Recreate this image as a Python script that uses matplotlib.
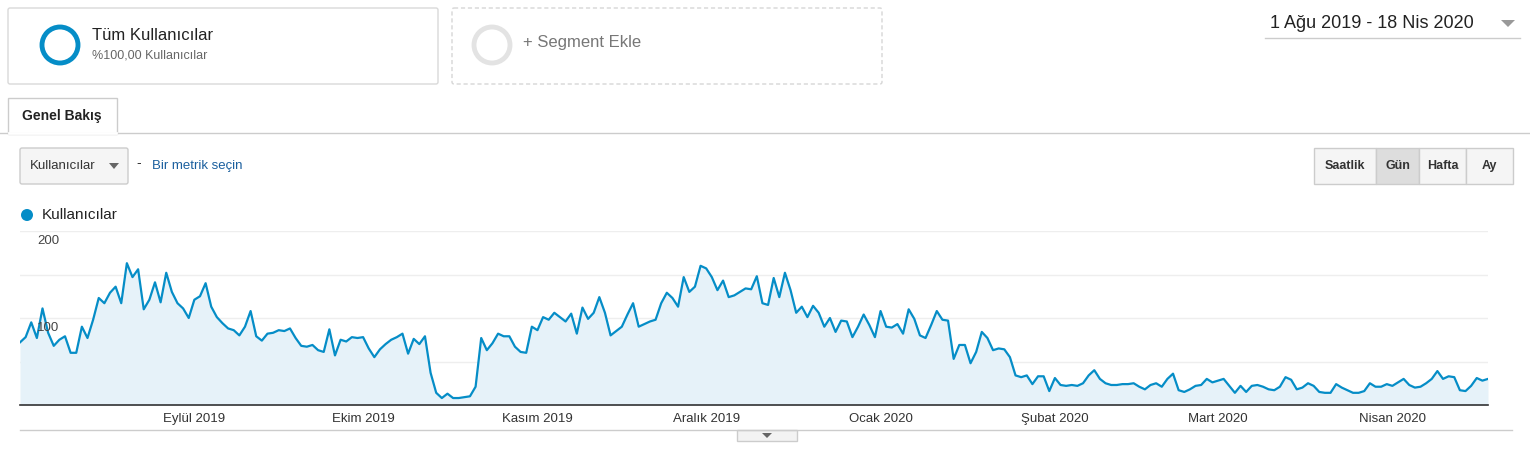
import matplotlib.pyplot as plt
from matplotlib.patches import Circle, FancyBboxPatch, Rectangle, Polygon
import numpy as np

plt.rcParams['font.family'] = ['Liberation Sans', 'DejaVu Sans']

# daily users, 1 Aug 2019 .. 18 Apr 2020
users = [
    72, 78, 95, 77, 111, 83, 68, 75, 79, 60, 60, 90, 77, 98, 123, 117, 129, 136, 117, 163,
    147, 156, 110, 121, 141, 118, 152, 130, 117, 111, 100, 121, 125, 140, 113, 101, 94, 88, 86, 80,
    90, 108, 79, 74, 82, 83,
    86, 85, 88, 77, 68, 67, 69, 63, 61, 87, 57, 75, 73, 78, 77, 78, 65, 55, 64, 70,
    75, 78, 82, 59, 76, 70, 79, 37, 14, 8, 13, 8, 8, 9, 10, 21, 77, 63, 71, 82,
    79, 79, 67, 61,
    60, 90, 86, 101, 98, 106, 101, 96, 105, 82, 112, 99, 106, 124, 106, 80, 85, 90, 104, 117,
    90, 93, 96, 98, 117, 129, 123, 113, 147, 130, 136, 160, 157, 147, 132, 143, 124, 126, 130, 134,
    133, 148, 117, 115, 146,
    124, 152, 132, 106, 113, 101, 114, 106, 90, 100, 84, 97, 96, 78, 90, 104, 92, 78, 108, 90,
    89, 93, 82, 110, 99, 80, 77, 92, 108, 98, 97, 53, 69, 69, 48, 61, 84, 77, 63, 65,
    64, 55, 34, 32,
    34, 24, 33, 33, 16, 31, 23, 22, 23, 22, 25, 34, 40, 30, 25, 23, 23, 24, 24, 25,
    21, 18, 23, 25, 21, 30, 36, 17, 15, 18, 22, 23, 30, 26, 28, 30, 22, 14, 22, 15,
    22, 23, 21, 18, 17, 21, 32, 29, 18, 20, 25, 22, 15, 14, 14, 24, 20, 17, 14, 14,
    16, 25, 21, 21, 24, 22, 26, 30, 23, 20, 21, 25, 30, 39, 30, 33, 32, 17, 16, 22,
    31, 28, 30,
]
month_days = [31, 61, 92, 122, 153, 184, 213, 244]
month_labels = ['Eylül 2019', 'Ekim 2019', 'Kasım 2019', 'Aralık 2019',
                'Ocak 2020', 'Şubat 2020', 'Mart 2020', 'Nisan 2020']

W, H = 1530, 451
BLUE = '#058dc7'
fig = plt.figure(figsize=(W / 100, H / 100), dpi=100)

# ---- UI overlay in pixel coords
ui = fig.add_axes([0, 0, 1, 1])
ui.set_xlim(0, W)
ui.set_ylim(H, 0)
ui.axis('off')

def box(x0, y0, x1, y1, ec='#d9d9d9', fc='white', ls='-', lw=1, r=2):
    ui.add_patch(FancyBboxPatch((x0, y0), x1 - x0, y1 - y0, boxstyle=f'round,pad=0,rounding_size={r}',
                                ec=ec, fc=fc, ls=ls, lw=lw))

box(8, 8, 438, 84)
ui.add_patch(Circle((60, 45), 18, fill=False, ec=BLUE, lw=3.5))
ui.text(92, 36, 'Tüm Kullanıcılar', fontsize=12, va='center', color='#222222')
ui.text(92, 55, '%100,00 Kullanıcılar', fontsize=9, va='center', color='#666666')

box(452, 8, 882, 84, ec='#d6d6d6', ls=(0, (3, 2)))
ui.add_patch(Circle((492, 45), 18, fill=False, ec='#e3e3e3', lw=3.5))
ui.text(523, 43, '+ Segment Ekle', fontsize=12, va='center', color='#777777')

ui.text(1270, 23, '1 Ağu 2019 - 18 Nis 2020', fontsize=13, va='center', color='#222222')
ui.add_patch(Polygon([[1501, 20], [1515, 20], [1508, 27]], fc='#999999', ec='none'))
ui.plot([1265, 1520], [38, 38], color='#cccccc', lw=1)

ui.plot([0, W], [133, 133], color='#cccccc', lw=1)
ui.add_patch(Rectangle((8, 98), 109, 36, fc='white', ec='#cccccc', lw=1))
ui.plot([9, 116], [133, 133], color='white', lw=2)
ui.text(62, 116, 'Genel Bakış', fontsize=10, fontweight='bold', ha='center', va='center', color='#222222')

box(20, 148, 128, 184, ec='#cccccc', fc='#f5f5f5')
ui.text(30, 166, 'Kullanıcılar', fontsize=9.5, va='center', color='#333333')
ui.add_patch(Polygon([[109, 163], [119, 163], [114, 169]], fc='#666666', ec='none'))
ui.text(136, 163, '-', fontsize=10, va='center', color='#333333')
ui.text(152, 166, 'Bir metrik seçin', fontsize=9.5, va='center', color='#1a5f9e')

buttons = [('Saatlik', 1314, 1376), ('Gün', 1376, 1419), ('Hafta', 1419, 1466), ('Ay', 1466, 1513)]
for label, x0, x1 in buttons:
    fc = '#dddddd' if label == 'Gün' else '#f5f5f5'
    ui.add_patch(Rectangle((x0, 148), x1 - x0, 36, fc=fc, ec='#cccccc', lw=1))
    ui.text((x0 + x1) / 2, 166, label, fontsize=9, fontweight='bold', ha='center', va='center', color='#333333')

ui.add_patch(Circle((27, 215), 6, fc=BLUE, ec='none'))
ui.text(42, 215, 'Kullanıcılar', fontsize=11, va='center', color='#222222')

ui.plot([20, 1512], [430, 430], color='#cccccc', lw=1)
ui.add_patch(Rectangle((737, 430), 60, 11, fc='#f3f3f3', ec='#cccccc', lw=1))
ui.add_patch(Polygon([[762, 433], [772, 433], [767, 438]], fc='#666666', ec='none'))

# ---- chart
x0, x1, ytop, ybot = 20, 1488, 231, 405
ax = fig.add_axes([x0 / W, (H - ybot) / H, (x1 - x0) / W, (ybot - ytop) / H])
days = np.arange(len(users))
ax.fill_between(days, users, 0, color='#e6f2f9', lw=0)
ax.plot(days, users, color=BLUE, lw=1.6)
ax.set_xlim(0, len(users) - 1)
ax.set_ylim(0, 200)
ax.patch.set_alpha(0)
for v in (50, 100, 150, 200):
    ax.axhline(v, color='#eeeeee', lw=1, zorder=0)
for s in ('top', 'right', 'left'):
    ax.spines[s].set_visible(False)
ax.spines['bottom'].set_color('#333333')
ax.spines['bottom'].set_linewidth(1.2)
ax.set_yticks([])
ax.set_xticks(month_days)
ax.set_xticklabels(month_labels, fontsize=9.5, color='#333333')
ax.tick_params(axis='x', length=0, pad=6)
ax.text(3, 188, '200', fontsize=9.5, color='#444444', va='center')
ax.text(3, 88, '100', fontsize=9.5, color='#444444', va='center')

fig.savefig('out.png', dpi=100)
